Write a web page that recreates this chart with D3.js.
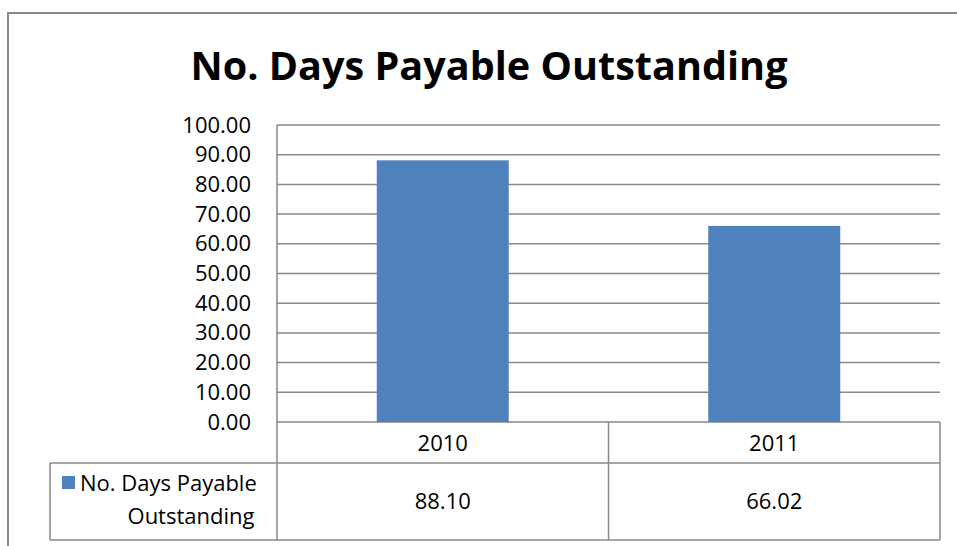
<!DOCTYPE html>
<html>
<head>
<meta charset="utf-8">
<script src="https://cdn.jsdelivr.net/npm/d3@7"></script>
<style>
  body { margin: 0; background: #fff; }
  text { font-family: "Open Sans", "Noto Sans", sans-serif; fill: #000; }
</style>
</head>
<body>
<svg id="chart" width="957" height="546"></svg>
<script>
var categories = ["2010", "2011"];
var values = [88.10, 66.02];
var seriesName = ["No. Days Payable", "Outstanding"];
var yTicks = [0, 10, 20, 30, 40, 50, 60, 70, 80, 90, 100];
var title = "No. Days Payable Outstanding";

var svg = d3.select("#chart");
var gridColor = "#898989";
var barColor = "#4f81bd";

var plotLeft = 277, plotRight = 940, plotTop = 125, plotBottom = 422;
var rowMid = 463, tableBottom = 540, legendLeft = 50;
var fs = "22px";

// outer chart border
svg.append("rect")
    .attr("x", 8).attr("y", 13)
    .attr("width", 1000).attr("height", 600)
    .style("fill", "none")
    .style("stroke", gridColor)
    .style("stroke-width", 2);

svg.append("text")
    .attr("x", 489).attr("y", 80)
    .attr("text-anchor", "middle")
    .style("font-size", "40px")
    .style("font-weight", "bold")
    .attr("textLength", 597)
    .attr("lengthAdjust", "spacingAndGlyphs")
    .text(title);

var x = d3.scaleBand().domain(categories).range([plotLeft, plotRight]);
var y = d3.scaleLinear().domain([0, 100]).range([plotBottom, plotTop]);

// gridlines
svg.append("g").selectAll("line")
    .data(yTicks)
  .enter().append("line")
    .attr("x1", plotLeft).attr("x2", plotRight)
    .attr("y1", function(d) { return y(d); })
    .attr("y2", function(d) { return y(d); })
    .style("stroke", gridColor)
    .style("stroke-width", 1.5);

// y labels
var yAxis = d3.axisLeft(y).tickValues(yTicks).tickFormat(d3.format(".2f")).tickSize(0).tickPadding(26);
var ya = svg.append("g").attr("transform", "translate(" + plotLeft + ",0)").call(yAxis);
ya.select(".domain").remove();
ya.selectAll("text").style("font-size", fs).attr("font-family", null);

// bars
var bw = 132;
svg.append("g").selectAll("rect")
    .data(values)
  .enter().append("rect")
    .attr("x", function(d, i) { return x(categories[i]) + x.bandwidth() / 2 - bw / 2; })
    .attr("y", function(d) { return y(d); })
    .attr("width", bw)
    .attr("height", function(d) { return y(0) - y(d); })
    .style("fill", barColor);

// data table lines
var t = svg.append("g").style("stroke", gridColor).style("stroke-width", 1.5);
t.append("line").attr("x1", plotLeft).attr("x2", plotLeft).attr("y1", plotTop).attr("y2", tableBottom);
t.append("line").attr("x1", plotRight).attr("x2", plotRight).attr("y1", plotBottom).attr("y2", tableBottom);
t.append("line").attr("x1", x(categories[1])).attr("x2", x(categories[1])).attr("y1", plotBottom).attr("y2", tableBottom);
t.append("line").attr("x1", legendLeft).attr("x2", plotRight).attr("y1", rowMid).attr("y2", rowMid);
t.append("line").attr("x1", legendLeft).attr("x2", plotRight).attr("y1", tableBottom).attr("y2", tableBottom);
t.append("line").attr("x1", legendLeft).attr("x2", legendLeft).attr("y1", rowMid).attr("y2", tableBottom);

// category labels
svg.append("g").selectAll("text")
    .data(categories)
  .enter().append("text")
    .attr("x", function(d) { return x(d) + x.bandwidth() / 2; })
    .attr("y", 451)
    .attr("text-anchor", "middle")
    .style("font-size", fs)
    .text(function(d) { return d; });

// values row
svg.append("g").selectAll("text")
    .data(values)
  .enter().append("text")
    .attr("x", function(d, i) { return x(categories[i]) + x.bandwidth() / 2; })
    .attr("y", 509)
    .attr("text-anchor", "middle")
    .style("font-size", fs)
    .text(function(d) { return d3.format(".2f")(d); });

// legend key
svg.append("rect")
    .attr("x", 62).attr("y", 476)
    .attr("width", 13).attr("height", 13)
    .style("fill", barColor);
svg.append("text")
    .attr("x", 80).attr("y", 491)
    .style("font-size", fs)
    .text(seriesName[0]);
svg.append("text")
    .attr("x", 191).attr("y", 524)
    .attr("text-anchor", "middle")
    .style("font-size", fs)
    .text(seriesName[1]);
</script>
</body>
</html>
